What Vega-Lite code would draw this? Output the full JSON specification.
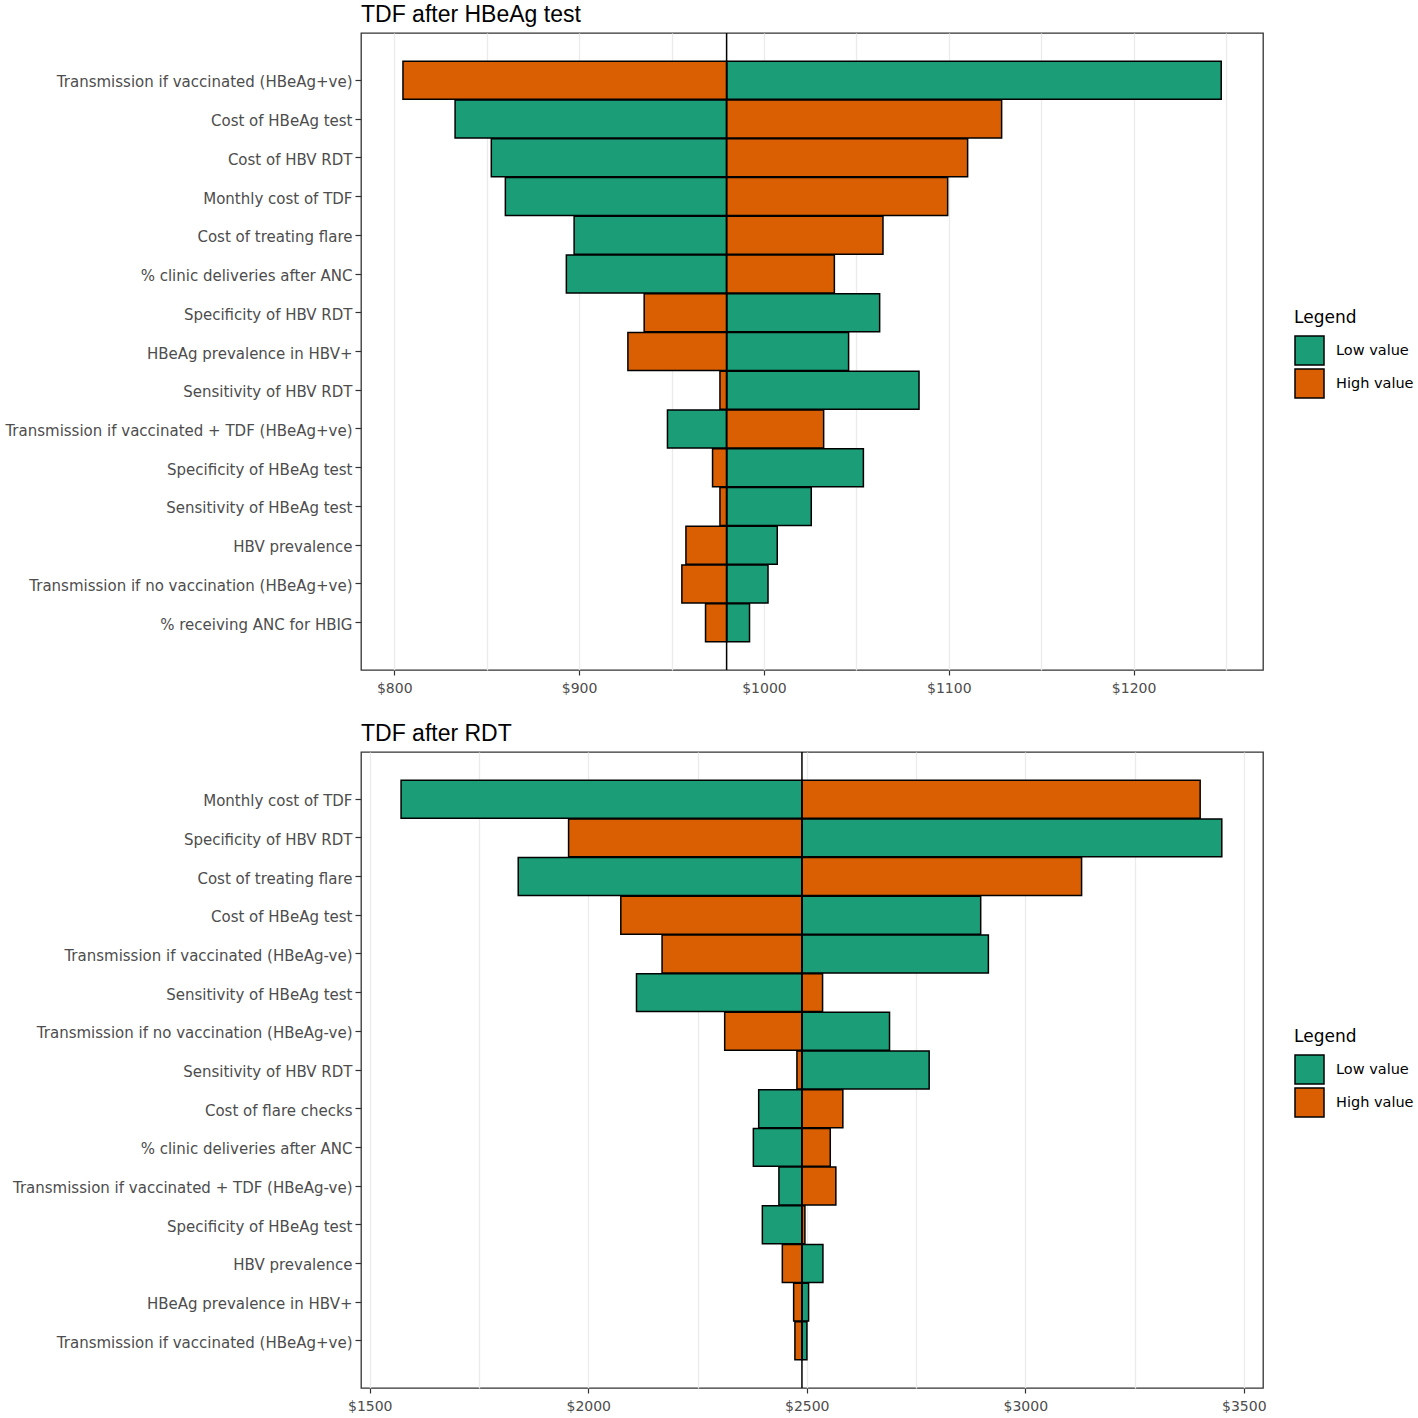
{
  "$schema": "https://vega.github.io/schema/vega-lite/v6.json",
  "padding": {"left": 4, "top": 3, "right": 0, "bottom": 0},
  "background": "white",
  "config": {
    "view": {"stroke": "#333333", "strokeWidth": 1.3},
    "font": "DejaVu Sans",
    "title": {"font": "Liberation Sans", "fontSize": 23, "fontWeight": "normal", "color": "#000000", "anchor": "start", "frame": "group", "offset": 5},
    "axisY": {"grid": false, "domain": false, "tickColor": "#333333", "tickSize": 6, "tickWidth": 1.2, "labelColor": "#4d4d4d", "labelFont": "DejaVu Sans", "labelFontSize": 15, "labelPadding": 3, "labelLimit": 0, "labelOffset": 2, "title": null},
    "axisX": {"domain": false, "tickSize": 5, "tickWidth": 1.2, "labelColor": "#4d4d4d", "labelFont": "DejaVu Sans", "labelFontSize": 14, "labelPadding": 6, "title": null, "gridColor": "#ebebeb", "gridWidth": 1.3},
    "legend": {"titleFont": "DejaVu Sans", "titleFontSize": 17, "titleFontWeight": "normal", "titleColor": "#000000", "labelFont": "DejaVu Sans", "labelFontSize": 14.5, "labelColor": "#000000", "symbolType": "square", "symbolSize": 841, "symbolStrokeColor": "#000000", "symbolStrokeWidth": 1.5, "symbolOpacity": 1, "rowPadding": -8, "labelOffset": 11, "titlePadding": 8}
  },
  "datasets": {
    "tornado": [
      {"panel": "A", "param": "Transmission if vaccinated (HBeAg+ve)", "type": "Low value", "value": 1247.4, "base": 979.8},
      {"panel": "A", "param": "Transmission if vaccinated (HBeAg+ve)", "type": "High value", "value": 804.7, "base": 979.8},
      {"panel": "A", "param": "Cost of HBeAg test", "type": "Low value", "value": 832.9, "base": 979.8},
      {"panel": "A", "param": "Cost of HBeAg test", "type": "High value", "value": 1128.6, "base": 979.8},
      {"panel": "A", "param": "Cost of HBV RDT", "type": "Low value", "value": 852.5, "base": 979.8},
      {"panel": "A", "param": "Cost of HBV RDT", "type": "High value", "value": 1110.2, "base": 979.8},
      {"panel": "A", "param": "Monthly cost of TDF", "type": "Low value", "value": 860.1, "base": 979.8},
      {"panel": "A", "param": "Monthly cost of TDF", "type": "High value", "value": 1099.4, "base": 979.8},
      {"panel": "A", "param": "Cost of treating flare", "type": "Low value", "value": 897.3, "base": 979.8},
      {"panel": "A", "param": "Cost of treating flare", "type": "High value", "value": 1064.4, "base": 979.8},
      {"panel": "A", "param": "% clinic deliveries after ANC", "type": "Low value", "value": 893.1, "base": 979.8},
      {"panel": "A", "param": "% clinic deliveries after ANC", "type": "High value", "value": 1038.1, "base": 979.8},
      {"panel": "A", "param": "Specificity of HBV RDT", "type": "Low value", "value": 1062.6, "base": 979.8},
      {"panel": "A", "param": "Specificity of HBV RDT", "type": "High value", "value": 935.2, "base": 979.8},
      {"panel": "A", "param": "HBeAg prevalence in HBV+", "type": "Low value", "value": 1045.8, "base": 979.8},
      {"panel": "A", "param": "HBeAg prevalence in HBV+", "type": "High value", "value": 926.4, "base": 979.8},
      {"panel": "A", "param": "Sensitivity of HBV RDT", "type": "Low value", "value": 1083.9, "base": 979.8},
      {"panel": "A", "param": "Sensitivity of HBV RDT", "type": "High value", "value": 976.2, "base": 979.8},
      {"panel": "A", "param": "Transmission if vaccinated + TDF (HBeAg+ve)", "type": "Low value", "value": 947.8, "base": 979.8},
      {"panel": "A", "param": "Transmission if vaccinated + TDF (HBeAg+ve)", "type": "High value", "value": 1032.3, "base": 979.8},
      {"panel": "A", "param": "Specificity of HBeAg test", "type": "Low value", "value": 1053.8, "base": 979.8},
      {"panel": "A", "param": "Specificity of HBeAg test", "type": "High value", "value": 972.2, "base": 979.8},
      {"panel": "A", "param": "Sensitivity of HBeAg test", "type": "Low value", "value": 1025.6, "base": 979.8},
      {"panel": "A", "param": "Sensitivity of HBeAg test", "type": "High value", "value": 976.2, "base": 979.8},
      {"panel": "A", "param": "HBV prevalence", "type": "Low value", "value": 1007.2, "base": 979.8},
      {"panel": "A", "param": "HBV prevalence", "type": "High value", "value": 957.8, "base": 979.8},
      {"panel": "A", "param": "Transmission if no vaccination (HBeAg+ve)", "type": "Low value", "value": 1002.2, "base": 979.8},
      {"panel": "A", "param": "Transmission if no vaccination (HBeAg+ve)", "type": "High value", "value": 955.6, "base": 979.8},
      {"panel": "A", "param": "% receiving ANC for HBIG", "type": "Low value", "value": 992.2, "base": 979.8},
      {"panel": "A", "param": "% receiving ANC for HBIG", "type": "High value", "value": 968.4, "base": 979.8},

      {"panel": "B", "param": "Monthly cost of TDF", "type": "Low value", "value": 1571.7, "base": 2489},
      {"panel": "B", "param": "Monthly cost of TDF", "type": "High value", "value": 3400.2, "base": 2489},
      {"panel": "B", "param": "Specificity of HBV RDT", "type": "Low value", "value": 3449.7, "base": 2489},
      {"panel": "B", "param": "Specificity of HBV RDT", "type": "High value", "value": 1955.0, "base": 2489},
      {"panel": "B", "param": "Cost of treating flare", "type": "Low value", "value": 1839.8, "base": 2489},
      {"panel": "B", "param": "Cost of treating flare", "type": "High value", "value": 3128.9, "base": 2489},
      {"panel": "B", "param": "Cost of HBeAg test", "type": "Low value", "value": 2898.0, "base": 2489},
      {"panel": "B", "param": "Cost of HBeAg test", "type": "High value", "value": 2074.5, "base": 2489},
      {"panel": "B", "param": "Transmission if vaccinated (HBeAg-ve)", "type": "Low value", "value": 2915.6, "base": 2489},
      {"panel": "B", "param": "Transmission if vaccinated (HBeAg-ve)", "type": "High value", "value": 2168.9, "base": 2489},
      {"panel": "B", "param": "Sensitivity of HBeAg test", "type": "Low value", "value": 2110.4, "base": 2489},
      {"panel": "B", "param": "Sensitivity of HBeAg test", "type": "High value", "value": 2536.2, "base": 2489},
      {"panel": "B", "param": "Transmission if no vaccination (HBeAg-ve)", "type": "Low value", "value": 2689.4, "base": 2489},
      {"panel": "B", "param": "Transmission if no vaccination (HBeAg-ve)", "type": "High value", "value": 2312.2, "base": 2489},
      {"panel": "B", "param": "Sensitivity of HBV RDT", "type": "Low value", "value": 2780.1, "base": 2489},
      {"panel": "B", "param": "Sensitivity of HBV RDT", "type": "High value", "value": 2477.5, "base": 2489},
      {"panel": "B", "param": "Cost of flare checks", "type": "Low value", "value": 2390.0, "base": 2489},
      {"panel": "B", "param": "Cost of flare checks", "type": "High value", "value": 2582.6, "base": 2489},
      {"panel": "B", "param": "% clinic deliveries after ANC", "type": "Low value", "value": 2377.8, "base": 2489},
      {"panel": "B", "param": "% clinic deliveries after ANC", "type": "High value", "value": 2553.8, "base": 2489},
      {"panel": "B", "param": "Transmission if vaccinated + TDF (HBeAg-ve)", "type": "Low value", "value": 2436.3, "base": 2489},
      {"panel": "B", "param": "Transmission if vaccinated + TDF (HBeAg-ve)", "type": "High value", "value": 2566.6, "base": 2489},
      {"panel": "B", "param": "Specificity of HBeAg test", "type": "Low value", "value": 2398.4, "base": 2489},
      {"panel": "B", "param": "Specificity of HBeAg test", "type": "High value", "value": 2495.8, "base": 2489},
      {"panel": "B", "param": "HBV prevalence", "type": "Low value", "value": 2537.0, "base": 2489},
      {"panel": "B", "param": "HBV prevalence", "type": "High value", "value": 2444.1, "base": 2489},
      {"panel": "B", "param": "HBeAg prevalence in HBV+", "type": "Low value", "value": 2504.2, "base": 2489},
      {"panel": "B", "param": "HBeAg prevalence in HBV+", "type": "High value", "value": 2470.0, "base": 2489},
      {"panel": "B", "param": "Transmission if vaccinated (HBeAg+ve)", "type": "Low value", "value": 2500.4, "base": 2489},
      {"panel": "B", "param": "Transmission if vaccinated (HBeAg+ve)", "type": "High value", "value": 2472.9, "base": 2489}
    ]
  },
  "data": {"name": "tornado"},
  "spacing": 26,
  "resolve": {"scale": {"x": "independent", "y": "independent", "color": "independent"}, "legend": {"color": "independent"}},
  "vconcat": [
    {
      "title": "TDF after HBeAg test",
      "width": 902,
      "height": 637,
      "transform": [{"filter": "datum.panel === 'A'"}],
      "layer": [
        {
          "mark": {"type": "bar", "stroke": "#000000", "strokeWidth": 1.5},
          "encoding": {
            "y": {"field": "param", "type": "nominal", "sort": null, "scale": {"paddingInner": 0.02, "paddingOuter": 0.73}},
            "x": {"field": "value", "type": "quantitative", "scale": {"domain": [782, 1270], "nice": false, "zero": false},
              "axis": {"values": [800, 850, 900, 950, 1000, 1050, 1100, 1150, 1200, 1250],
                "labelExpr": "datum.value % 100 === 0 ? '$' + datum.value : ''",
                "tickColor": {"condition": {"test": "datum.value % 100 === 0", "value": "#333333"}, "value": "transparent"}}},
            "x2": {"field": "base"},
            "color": {"field": "type", "type": "nominal", "title": "Legend",
              "scale": {"domain": ["Low value", "High value"], "range": ["#1b9e77", "#d95f02"]},
              "legend": {"orient": "none", "legendX": 933, "legendY": 277}}
          }
        },
        {
          "mark": {"type": "rule", "color": "#000000", "strokeWidth": 1.5},
          "encoding": {"x": {"field": "base", "aggregate": "mean", "type": "quantitative"}}
        }
      ]
    },
    {
      "title": "TDF after RDT",
      "width": 902,
      "height": 636,
      "transform": [{"filter": "datum.panel === 'B'"}],
      "layer": [
        {
          "mark": {"type": "bar", "stroke": "#000000", "strokeWidth": 1.5},
          "encoding": {
            "y": {"field": "param", "type": "nominal", "sort": null, "scale": {"paddingInner": 0.02, "paddingOuter": 0.73}},
            "x": {"field": "value", "type": "quantitative", "scale": {"domain": [1480, 3544], "nice": false, "zero": false},
              "axis": {"values": [1500, 1750, 2000, 2250, 2500, 2750, 3000, 3250, 3500],
                "labelExpr": "datum.value % 500 === 0 ? '$' + datum.value : ''",
                "tickColor": {"condition": {"test": "datum.value % 500 === 0", "value": "#333333"}, "value": "transparent"}}},
            "x2": {"field": "base"},
            "color": {"field": "type", "type": "nominal", "title": "Legend",
              "scale": {"domain": ["Low value", "High value"], "range": ["#1b9e77", "#d95f02"]},
              "legend": {"orient": "none", "legendX": 933, "legendY": 277}}
          }
        },
        {
          "mark": {"type": "rule", "color": "#000000", "strokeWidth": 1.5},
          "encoding": {"x": {"field": "base", "aggregate": "mean", "type": "quantitative"}}
        }
      ]
    }
  ]
}
